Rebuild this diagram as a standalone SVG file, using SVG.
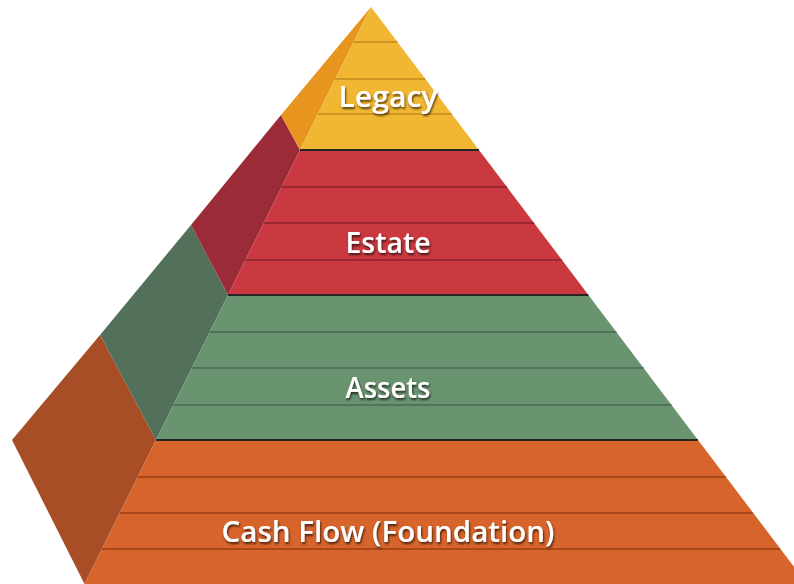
<svg xmlns="http://www.w3.org/2000/svg" width="794" height="584" viewBox="0 0 794 584">
  <defs>
    <filter id="sh" x="-10%" y="-30%" width="120%" height="160%">
      <feDropShadow dx="1" dy="2" stdDeviation="1" flood-color="#000" flood-opacity="0.65"/>
    </filter>
  </defs>
  <style>
    .lbl { font-family: "Open Sans", "Liberation Sans", sans-serif; font-weight: 600; font-size: 29px; fill: #ffffff; text-anchor: middle; filter: url(#sh); }
    .sep { stroke-width: 1.6; fill: none; }
    .edge { stroke: #262626; stroke-width: 2.2; fill: none; }
    .l1 { stroke: #C08A1E; }
    .l2 { stroke: #8A2330; }
    .l3 { stroke: #4A6A50; }
    .l4 { stroke: #9A4017; }
  </style>
  <rect width="794" height="584" fill="#ffffff"/>

  <g id="cashflow">
    <polygon points="100,335 12,440 84.5,584 156,440" fill="#A84E26"/>
    <polygon points="156,440 698,440 807,584 84.5,584" fill="#D6642B"/>
    <line class="sep l4" x1="137.6" y1="477" x2="725.9" y2="477"/>
    <line class="sep l4" x1="119.8" y1="513" x2="753" y2="513"/>
    <line class="sep l4" x1="101.9" y1="549" x2="780.2" y2="549"/>
    <text class="lbl" x="388" y="542" textLength="333" lengthAdjust="spacingAndGlyphs">Cash Flow (Foundation)</text>
  </g>

  <g id="assets">
    <polygon points="191,225 100,335 156,440 228,295" fill="#52705A"/>
    <polygon points="228,295 588.4,295 698,440 156,440" fill="#6A9470"/>
    <line class="sep l3" x1="209.6" y1="332" x2="616.4" y2="332"/>
    <line class="sep l3" x1="191.8" y1="368" x2="643.6" y2="368"/>
    <line class="sep l3" x1="173.4" y1="405" x2="671.5" y2="405"/>
    <text class="lbl" x="388" y="398" textLength="85" lengthAdjust="spacingAndGlyphs">Assets</text>
  </g>

  <g id="estate">
    <polygon points="281,115 191,225 228,295 300,150" fill="#9C2B3A"/>
    <polygon points="300,150 479,150 588.4,295 228,295" fill="#C9393F"/>
    <line class="sep l2" x1="281.6" y1="187" x2="506.9" y2="187"/>
    <line class="sep l2" x1="263.8" y1="223" x2="534.1" y2="223"/>
    <line class="sep l2" x1="245.4" y1="260" x2="562" y2="260"/>
    <text class="lbl" x="388" y="253" textLength="85" lengthAdjust="spacingAndGlyphs">Estate</text>
  </g>

  <g id="legacy">
    <polygon points="371,7 281,115 300,150" fill="#E8951F"/>
    <polygon points="371,7 479,150 300,150" fill="#F2B732"/>
    <line class="sep l1" x1="353.6" y1="42" x2="397.4" y2="42"/>
    <line class="sep l1" x1="335.3" y1="79" x2="425.4" y2="79"/>
    <line class="sep l1" x1="317.9" y1="114" x2="451.8" y2="114"/>
    <text class="lbl" x="388" y="107" textLength="99" lengthAdjust="spacingAndGlyphs">Legacy</text>
  </g>

  <g id="edges">
    <line class="edge" x1="300" y1="150" x2="479" y2="150"/>
    <line class="edge" x1="228" y1="295" x2="588.4" y2="295"/>
    <line class="edge" x1="156" y1="440" x2="698" y2="440"/>
  </g>
</svg>
